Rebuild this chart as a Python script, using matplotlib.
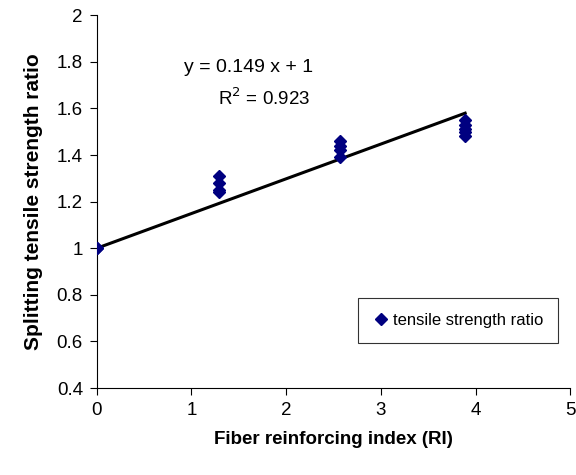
import matplotlib

matplotlib.use("Agg")
import matplotlib.pyplot as plt

# fiber reinforcing index (RI) and splitting tensile strength ratio
ri = [0, 0,
      1.29, 1.29, 1.29, 1.29,
      2.57, 2.57, 2.57, 2.57,
      3.89, 3.89, 3.89, 3.89, 3.89]
ratio = [1.0, 1.0,
         1.31, 1.28, 1.25, 1.24,
         1.46, 1.44, 1.42, 1.39,
         1.55, 1.53, 1.51, 1.50, 1.48]

slope = 0.149
intercept = 1.0
fit_x = [0, 3.89]
fit_y = [intercept + slope * x for x in fit_x]

xticks = [0, 1, 2, 3, 4, 5]
yticks = [0.4, 0.6, 0.8, 1, 1.2, 1.4, 1.6, 1.8, 2]

plt.rcParams["font.family"] = ["Liberation Sans", "DejaVu Sans"]

fig = plt.figure(figsize=(5.76, 4.75), dpi=100)
ax = fig.add_axes([0.168, 0.183, 0.822, 0.785])

ax.plot(fit_x, fit_y, color="black", linewidth=2.2, zorder=2)
ax.plot(ri, ratio, linestyle="none", marker="D", markersize=6.5,
        color="#000080", label="tensile strength ratio", zorder=3)

ax.set_xlim(0, 5)
ax.set_ylim(0.4, 2)
ax.set_xticks(xticks)
ax.set_xticklabels([str(t) for t in xticks])
ax.set_yticks(yticks)
ax.set_yticklabels(["0.4", "0.6", "0.8", "1", "1.2", "1.4", "1.6", "1.8", "2"])
ax.tick_params(direction="out", length=5, labelsize=13.5, pad=5)

ax.spines["top"].set_visible(False)
ax.spines["right"].set_visible(False)

ax.set_xlabel("Fiber reinforcing index (RI)", fontsize=13.5, fontweight="bold", labelpad=9)
ax.set_ylabel("Splitting tensile strength ratio", fontsize=15, fontweight="bold", labelpad=10)

ax.text(1.6, 1.775, "y = 0.149 x + 1", fontsize=14, ha="center", va="center")
ax.text(1.77, 1.645, "R$^2$ = 0.923", fontsize=13.5, ha="center", va="center")

leg = ax.legend(loc="lower right", bbox_to_anchor=(0.974, 0.12), fontsize=12,
                frameon=True, fancybox=False, handletextpad=0.2,
                borderpad=0.9, handlelength=1.0, borderaxespad=0)
leg.get_frame().set_edgecolor("black")
leg.get_frame().set_linewidth(0.8)

fig.savefig("out.png", dpi=100)
